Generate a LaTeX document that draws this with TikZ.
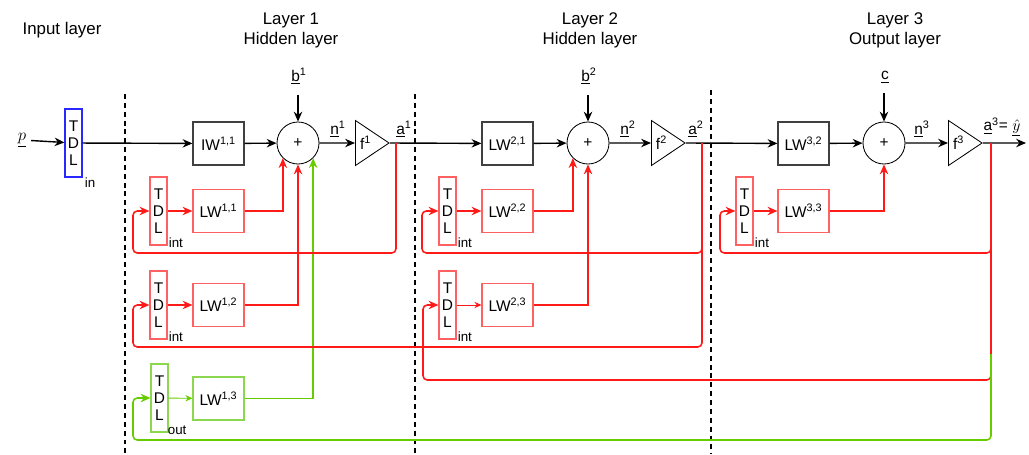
\documentclass[tikz,border=0pt]{standalone}
\usepackage{fontspec}
\setmainfont{Liberation Sans}
\definecolor{NetRed}{RGB}{255,26,26}
\definecolor{NetRedBox}{RGB}{255,96,96}
\definecolor{NetGreen}{RGB}{102,204,0}
\definecolor{NetGreenBox}{RGB}{140,215,80}
\definecolor{NetBlue}{RGB}{40,40,255}
\definecolor{BoxGray}{RGB}{64,64,64}
\usetikzlibrary{
    shapes.geometric,
    arrows.meta,
    positioning,
    calc,
}
\newcommand{\boxfont}{\fontsize{11}{12}\selectfont}
\newcommand{\headfont}{\fontsize{12}{14.2}\selectfont}
\newcommand{\subfont}{\fontsize{9.5}{11}\selectfont}

\begin{document}
\begin{tikzpicture}[
    x=0.025cm, y=-0.025cm,
    wbox/.style={rectangle, draw=#1, line width=0.8pt, minimum width=1.275cm, minimum height=1.075cm, inner sep=0pt, font=\boxfont},
    tdlbox/.style={rectangle, draw=#1, line width=0.8pt, minimum width=0.425cm, minimum height=1.7cm, inner sep=0pt, align=center, font=\boxfont},
    sumnode/.style={circle, draw, line width=0.6pt, minimum size=1.05cm, inner sep=0pt, font=\boxfont},
    actnode/.style={isosceles triangle, isosceles triangle stretches, draw, line width=0.6pt, minimum width=1.125cm, minimum height=0.84cm, inner sep=0pt, font=\boxfont},
    headlbl/.style={align=center, font=\headfont},
    lbl/.style={font=\boxfont},
    sublbl/.style={font=\subfont, inner sep=0pt},
    sig/.style={line width=1pt, -{Stealth[length=7pt, width=6pt]}},
    wline/.style={draw=#1, line width=1.1pt, -{Stealth[length=7pt, width=6pt]}},
    thinline/.style={draw=#1, line width=0.6pt, -{Stealth[length=5pt, width=4.5pt]}},
    fb/.style={draw=#1, line width=1.1pt, rounded corners=3pt, -{Stealth[length=7pt, width=6pt]}},
    sep/.style={line width=1.1pt, dash pattern=on 3.5pt off 2.8pt},
]
    \useasboundingbox (0,0) rectangle (1029,454);

    % headers and layer separators
    \node[headlbl] (hin) at (62,30) {Input layer};
    \node[headlbl] (h1) at (291,30) {Layer 1\\Hidden layer};
    \node[headlbl] (h2) at (590,30) {Layer 2\\Hidden layer};
    \node[headlbl] (h3) at (895,30) {Layer 3\\Output layer};
    \draw[sep] (125,94) -- (125,454);
    \draw[sep] (415,94) -- (415,454);
    \draw[sep] (711,90) -- (711,454);

    % input layer
    \node[font=\fontsize{13}{15}\selectfont] (p) at (22,140) {$\underline{p}$};
    \node[tdlbox=NetBlue] (tdlin) at (73.5,143) {T\\D\\L};
    \node[sublbl, anchor=west] at ($(tdlin.south east)+(2,5)$) {in};

    % layer 1
    \node[wbox=BoxGray] (iw11) at (218.5,143.5) {IW\textsuperscript{1,1}};
    \node[sumnode] (sum1) at (298,143) {+};
    \node[actnode, anchor=west] (f1) at (355,143) {f\textsuperscript{1}};
    \node[lbl] (b1) at (299,76) {\underline{b}\textsuperscript{1}};
    \node[lbl] (n1) at (338,129) {\underline{n}\textsuperscript{1}};
    \node[lbl] (a1) at (404,129) {\underline{a}\textsuperscript{1}};
    \coordinate (tap1) at (396,143);
    \node[tdlbox=NetRedBox] (tdl11) at (158.5,211) {T\\D\\L};
    \node[wbox=NetRedBox] (lw11) at (218.5,211) {LW\textsuperscript{1,1}};
    \node[tdlbox=NetRedBox] (tdl12) at (158.5,305) {T\\D\\L};
    \node[wbox=NetRedBox] (lw12) at (218.5,305) {LW\textsuperscript{1,2}};
    \node[tdlbox=NetGreenBox] (tdl13) at (159.5,398) {T\\D\\L};
    \node[wbox=NetGreenBox] (lw13) at (218.5,398.5) {LW\textsuperscript{1,3}};
    \node[sublbl, anchor=west] at ($(tdl11.south east)+(1,-3)$) {int};
    \node[sublbl, anchor=west] at ($(tdl12.south east)+(1,-3)$) {int};
    \node[sublbl, anchor=west] at ($(tdl13.south east)+(-1,-2)$) {out};

    % layer 2
    \node[wbox=BoxGray] (lw21) at (507.5,143.5) {LW\textsuperscript{2,1}};
    \node[sumnode] (sum2) at (588,143) {+};
    \node[actnode, anchor=west] (f2) at (651,143) {f\textsuperscript{2}};
    \node[lbl] (b2) at (589,76) {\underline{b}\textsuperscript{2}};
    \node[lbl] (n2) at (628,129) {\underline{n}\textsuperscript{2}};
    \node[lbl] (a2) at (696,129) {\underline{a}\textsuperscript{2}};
    \coordinate (tap2) at (702,143);
    \node[tdlbox=NetRedBox] (tdl21) at (447.5,211) {T\\D\\L};
    \node[wbox=NetRedBox] (lw22) at (507.5,211) {LW\textsuperscript{2,2}};
    \node[tdlbox=NetRedBox] (tdl22) at (447.5,305) {T\\D\\L};
    \node[wbox=NetRedBox] (lw23) at (507.5,305) {LW\textsuperscript{2,3}};
    \node[sublbl, anchor=west] at ($(tdl21.south east)+(1,-3)$) {int};
    \node[sublbl, anchor=west] at ($(tdl22.south east)+(1,-3)$) {int};

    % layer 3
    \node[wbox=BoxGray] (lw32) at (803.5,143.5) {LW\textsuperscript{3,2}};
    \node[sumnode] (sum3) at (884,143) {+};
    \node[actnode, anchor=west] (f3) at (948,143) {f\textsuperscript{3}};
    \node[lbl] (c) at (885,77) {\underline{c}};
    \node[lbl] (n3) at (922,129) {\underline{n}\textsuperscript{3}};
    \node[lbl, inner sep=1pt] (a3) at (1002,127) {\underline{a}\textsuperscript{3}= $\underline{\hat{y}}$};
    \coordinate (tap3) at (991,143);
    \coordinate (gtap) at (991,354);
    \coordinate (out) at (1026,143);
    \node[tdlbox=NetRedBox] (tdl31) at (744.5,211) {T\\D\\L};
    \node[wbox=NetRedBox] (lw33) at (803.5,211) {LW\textsuperscript{3,3}};
    \node[sublbl, anchor=west] at ($(tdl31.south east)+(1,-3)$) {int};

    % forward path
    \draw[sig] (p) -- (tdlin);
    \draw[sig] (tdlin) -- (iw11);
    \draw[sig] (iw11) -- (sum1);
    \draw[sig] (sum1) -- (f1);
    \draw[sig] (f1.east) -- (lw21);
    \draw[sig] (lw21) -- (sum2);
    \draw[sig] (sum2) -- (f2);
    \draw[sig] (f2.east) -- (lw32);
    \draw[sig] (lw32) -- (sum3);
    \draw[sig] (sum3) -- (f3);
    \draw[sig] (f3.east) -- (out);
    \draw[sig] ([yshift=-4pt]b1.south -| sum1.north) -- (sum1.north);
    \draw[sig] ([yshift=-4pt]b2.south -| sum2.north) -- (sum2.north);
    \draw[sig] ([yshift=-4pt]c.south -| sum3.north) -- (sum3.north);

    % delayed inputs into the sums
    \draw[wline=NetRed] (tdl11) -- (lw11);
    \draw[wline=NetRed] (tdl12) -- (lw12);
    \draw[thinline=NetGreen] (tdl13) -- (lw13);
    \draw[wline=NetRed] (lw11) -| (sum1.south west);
    \draw[wline=NetRed] (lw12) -| (sum1.south);
    \draw[wline=NetGreen] (lw13) -| (sum1.south east);
    \draw[wline=NetRed] (tdl21) -- (lw22);
    \draw[thinline=NetRed] (tdl22) -- (lw23);
    \draw[wline=NetRed] (lw22) -| (sum2.south west);
    \draw[wline=NetRed] (lw23) -| (sum2.south);
    \draw[wline=NetRed] (tdl31) -- (lw33);
    \draw[wline=NetRed] (lw33) -| (sum3.south);

    % feedback loops
    \draw[fb=NetRed] (tap1) |- (133,253) |- (tdl11.west);
    \draw[fb=NetRed] (tap2) |- (422,253) |- (tdl21.west);
    \draw[fb=NetRed] (tap2) |- (133,347) |- (tdl12.west);
    \draw[fb=NetRed] (tap3) |- (720,253) |- (tdl31.west);
    \draw[fb=NetRed] (tap3) |- (423,380) |- (tdl22.west);
    \draw[fb=NetGreen] (gtap) |- (133,440) |- (tdl13.west);
\end{tikzpicture}
\end{document}
